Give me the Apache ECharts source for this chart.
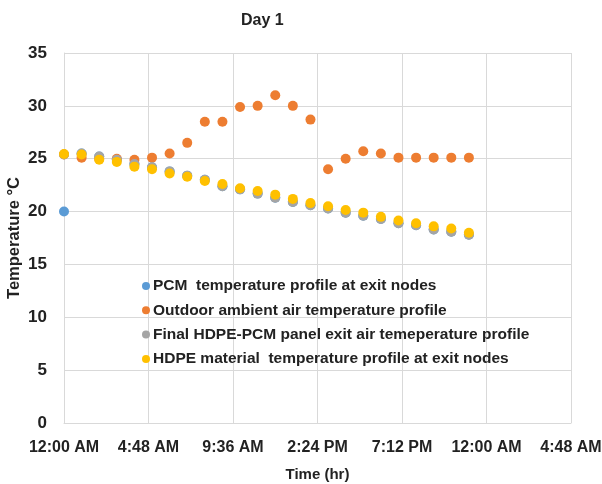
<!DOCTYPE html>
<html><head><meta charset="utf-8">
<script src="https://cdn.jsdelivr.net/npm/echarts@6/dist/echarts.min.js"></script>
<style>html,body{margin:0;padding:0;background:#fff}#c{width:602px;height:484px}</style>
</head><body><div id="c"></div>
<script>
const hours = [0,1,2,3,4,5,6,7,8,9,10,11,12,13,14,15,16,17,18,19,20,21,22,23];
const pcm = [20.0,25.5,25.2,24.9,24.5,24.2,23.8,23.4,23.0,22.4,22.1,21.7,21.3,20.9,20.6,20.3,19.9,19.6,19.3,18.9,18.7,18.3,18.1,17.8];
const outdoor = [25.4,25.1,25.0,25.0,24.9,25.1,25.5,26.5,28.5,28.5,29.9,30.0,31.0,30.0,28.7,24.0,25.0,25.7,25.5,25.1,25.1,25.1,25.1,25.1];
const finalAir = [25.4,25.5,25.2,24.9,24.5,24.2,23.8,23.4,23.0,22.4,22.1,21.7,21.3,20.9,20.6,20.3,19.9,19.6,19.3,18.9,18.7,18.3,18.1,17.8];
const hdpe = [25.45,25.4,24.9,24.7,24.25,24.0,23.6,23.3,22.9,22.6,22.2,21.95,21.6,21.2,20.8,20.5,20.15,19.9,19.5,19.15,18.9,18.6,18.4,18.0];
const xTickLabels = ["12:00 AM","4:48 AM","9:36 AM","2:24 PM","7:12 PM","12:00 AM","4:48 AM"];
const names = ["PCM  temperature profile at exit nodes","Outdoor ambient air temperature profile","Final HDPE-PCM panel exit air temeperature profile","HDPE material  temperature profile at exit nodes"];
const colors = ["#5B9BD5","#ED7D31","#A5A5A5","#FFC000"];
const seriesData = [pcm, outdoor, finalAir, hdpe];

const font = "'Liberation Sans', Arial, sans-serif";
const chart = echarts.init(document.getElementById('c'), null, {renderer:'canvas'});
chart.setOption({
  animation:false,
  textStyle:{fontFamily:font},
  title:{text:'Day 1', left:236, top:8, textStyle:{fontSize:16,fontWeight:'bold',color:'#222',fontFamily:font}},
  grid:{left:64,right:31,top:53,bottom:61,containLabel:false,outerBoundsMode:'none'},
  legend:{
    orient:'vertical', left:137, top:273, itemGap:8.3, itemWidth:8, itemHeight:8,
    icon:'circle',
    data:names,
    textStyle:{fontSize:15.5,fontWeight:'bold',color:'#222',fontFamily:font, padding:[0,0,0,-2]}
  },
  xAxis:{type:'value',min:0,max:28.8,interval:4.8,
    name:'Time (hr)',nameLocation:'middle',nameGap:44,nameMoveOverlap:false,
    nameTextStyle:{fontSize:15,fontWeight:'bold',color:'#222'},
    axisLine:{show:true,lineStyle:{color:'#d9d9d9'}},
    axisTick:{show:false},
    axisLabel:{fontSize:16,fontWeight:'bold',color:'#222',margin:17,
      formatter:function(v){return xTickLabels[Math.round(v/4.8)];}},
    splitLine:{show:true,lineStyle:{color:'#d9d9d9'}}
  },
  yAxis:{type:'value',min:0,max:35,interval:5,
    name:'Temperature °C',nameLocation:'middle',nameGap:41,nameMoveOverlap:false,
    nameTextStyle:{fontSize:16.5,fontWeight:'bold',color:'#222'},
    axisLine:{show:true,lineStyle:{color:'#d9d9d9'}},
    axisTick:{show:false},
    axisLabel:{fontSize:17,fontWeight:'bold',color:'#222',margin:17},
    splitLine:{show:true,lineStyle:{color:'#d9d9d9'}}
  },
  series: seriesData.map((d,i)=>({
    name:names[i], type:'scatter', symbolSize:10,
    itemStyle:{color:colors[i],opacity:1},
    data:hours.map((h,j)=>[h,d[j]])
  }))
});
</script></body></html>
